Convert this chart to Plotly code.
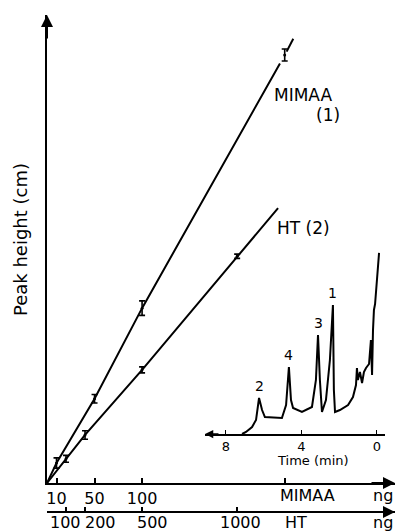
import plotly.graph_objects as go

# ---------------- data ----------------
# Calibration, MIMAA (1): amount (ng) vs peak height (arbitrary cm units)
mimaa_ng = [10, 50, 100, 250]
mimaa_h = [0.47, 1.98, 4.11, 10.06]
mimaa_err = [0.12, 0.10, 0.17, 0.14]
mimaa_line_x = [0, 10, 50, 100, 245]
mimaa_line_y = [0, 0.47, 1.98, 4.11, 9.86]
mimaa_ext_x = [252, 259]
mimaa_ext_y = [10.14, 10.44]

# Calibration, HT (2)
ht_ng = [100, 200, 500, 1000]
ht_h = [0.57, 1.13, 2.66, 5.33]
ht_err = [0.08, 0.10, 0.07, 0.05]
ht_line_x = [0, 100, 200, 500, 1000, 1215]
ht_line_y = [0, 0.57, 1.13, 2.66, 5.33, 6.46]

# Axis ticks
mimaa_ticks = [10, 50, 100, 250]
mimaa_ticklabels = ["10", "50", "100", ""]
ht_ticks = [100, 200, 500, 1000]
ht_ticklabels = ["100", "200", "500", "1000"]

# Inset chromatogram: time (min) vs detector response
chrom_t = [7.14, 6.93, 6.61, 6.40, 6.24, 6.08, 5.93, 5.03, 4.81, 4.66, 4.55, 4.44,
           3.97, 3.44, 3.23, 3.12, 3.02, 2.91, 2.70, 2.49, 2.33, 2.28, 2.22, 1.96,
           1.53, 1.27, 1.11, 1.06, 1.01, 0.90, 0.79, 0.69, 0.58, 0.42, 0.32, 0.26,
           0.21, 0.16, 0.10, -0.11]
chrom_h = [0, 2, 7, 14, 36, 24, 17, 16, 29, 67, 34, 26,
           22, 27, 54, 99, 54, 22, 34, 74, 129, 44, 22, 24,
           29, 37, 49, 66, 54, 62, 51, 62, 66, 70, 94, 59,
           104, 124, 130, 181]
peak_labels = ["2", "4", "3", "1"]
peak_t = [6.24, 4.66, 3.12, 2.33]
peak_h = [36, 67, 99, 129]
time_ticks = [8, 4, 0]

FONT = "DejaVu Sans"
BLACK = "black"

fig = go.Figure()

# calibration lines
fig.add_trace(go.Scatter(x=mimaa_line_x, y=mimaa_line_y, mode="lines",
                         line=dict(color=BLACK, width=2), xaxis="x", yaxis="y"))
fig.add_trace(go.Scatter(x=mimaa_ext_x, y=mimaa_ext_y, mode="lines",
                         line=dict(color=BLACK, width=2), xaxis="x", yaxis="y"))
fig.add_trace(go.Scatter(x=mimaa_ng, y=mimaa_h, mode="markers",
                         marker=dict(color=BLACK, size=3),
                         error_y=dict(type="data", array=mimaa_err, color=BLACK,
                                      thickness=1.6, width=3),
                         xaxis="x", yaxis="y"))
fig.add_trace(go.Scatter(x=ht_line_x, y=ht_line_y, mode="lines",
                         line=dict(color=BLACK, width=2), xaxis="x2", yaxis="y"))
fig.add_trace(go.Scatter(x=ht_ng, y=ht_h, mode="markers",
                         marker=dict(color=BLACK, size=3),
                         error_y=dict(type="data", array=ht_err, color=BLACK,
                                      thickness=1.6, width=3),
                         xaxis="x2", yaxis="y"))

# inset chromatogram
fig.add_trace(go.Scatter(x=chrom_t, y=chrom_h, mode="lines",
                         line=dict(color=BLACK, width=2), xaxis="x3", yaxis="y3"))

Y_DOM0 = 0.0841
HT_POS = 0.0274
fig.update_layout(
    width=399, height=531,
    margin=dict(l=47, r=4, t=15, b=5, autoexpand=False),
    paper_bgcolor="white", plot_bgcolor="rgba(0,0,0,0)",
    showlegend=False,
    font=dict(family=FONT, size=16, color=BLACK),
    xaxis=dict(domain=[0, 1], range=[0, 366], anchor="y", automargin=False,
               showline=True, linecolor=BLACK, linewidth=2,
               showgrid=False, zeroline=False,
               tickmode="array", tickvals=mimaa_ticks, ticktext=mimaa_ticklabels,
               ticks="inside", ticklen=5, tickwidth=1.5, tickcolor=BLACK,
               tickfont=dict(size=16, family=FONT)),
    xaxis2=dict(range=[0, 1830], overlaying="x", anchor="free", position=HT_POS,
                automargin=False,
                side="bottom", showline=True, linecolor=BLACK, linewidth=2,
                showgrid=False, zeroline=False,
                tickmode="array", tickvals=ht_ticks, ticktext=[""] * len(ht_ticks),
                ticks="inside", ticklen=4, tickwidth=1.5, tickcolor=BLACK,
                showticklabels=False),
    yaxis=dict(domain=[Y_DOM0, 1], range=[0, 11], anchor="x", automargin=False,
               showline=True, linecolor=BLACK, linewidth=2,
               showgrid=False, zeroline=False, showticklabels=False, ticks=""),
    xaxis3=dict(domain=[0.454, 0.971], range=[9.1, -0.42], anchor="y3", automargin=False,
                showline=True, linecolor=BLACK, linewidth=1.5,
                showgrid=False, zeroline=False,
                tickmode="array", tickvals=time_ticks,
                ticks="inside", ticklen=4, tickwidth=1.2, tickcolor=BLACK,
                ticklabelstandoff=0,
                tickfont=dict(size=13, family=FONT)),
    yaxis3=dict(domain=[0.180, 0.552], range=[0, 190], anchor="x3",
                visible=False),
)

ann = []
# arrowheads
ann.append(dict(x=0, y=11, xref="x", yref="y", ax=0, ay=25,
                text="", showarrow=True, arrowhead=2, arrowsize=1.2, arrowwidth=2,
                arrowcolor=BLACK))
ann.append(dict(x=366, y=0, xref="x", yref="y", ax=-25, ay=0,
                text="", showarrow=True, arrowhead=2, arrowsize=1.2, arrowwidth=2,
                arrowcolor=BLACK))
ann.append(dict(x=1830, y=HT_POS, xref="x2", yref="paper", ax=-25, ay=0,
                text="", showarrow=True, arrowhead=2, arrowsize=1.2, arrowwidth=2,
                arrowcolor=BLACK))
ann.append(dict(x=9.1, y=0, xref="x3", yref="y3", ax=15, ay=0,
                text="", showarrow=True, arrowhead=2, arrowsize=1.1, arrowwidth=1.5,
                arrowcolor=BLACK))

# inset axis title
ann.append(dict(x=3.39, y=0, xref="x3", yref="y3", text="Time (min)", showarrow=False,
                yanchor="middle", yshift=-26, font=dict(size=13, family=FONT)))

# HT tick labels (typeset slightly offset from ticks, as in the original)
ht_label_shift = [-1, 15, 10, 3]
for v, t, s in zip(ht_ticks, ht_ticklabels, ht_label_shift):
    ann.append(dict(x=v, y=HT_POS, xref="x2", yref="paper", text=t, showarrow=False,
                    xshift=s, yanchor="top", yshift=1,
                    font=dict(size=16, family=FONT)))

# axis names
ann.append(dict(x=274, y=Y_DOM0, xref="x", yref="paper", text="MIMAA", showarrow=False,
                xanchor="center", yanchor="top", yshift=-1, font=dict(size=16, family=FONT)))
ann.append(dict(x=1, y=Y_DOM0, xref="paper", yref="paper", text="ng", showarrow=False,
                xanchor="right", yanchor="top", yshift=-1, font=dict(size=16, family=FONT)))
ann.append(dict(x=1309, y=HT_POS, xref="x2", yref="paper", text="HT", showarrow=False,
                yanchor="top", yshift=1, font=dict(size=16, family=FONT)))
ann.append(dict(x=1, y=HT_POS, xref="paper", yref="paper", text="ng", showarrow=False,
                xanchor="right", yanchor="top", yshift=1, font=dict(size=16, family=FONT)))

# y title
ann.append(dict(x=0, y=(526 - 240) / 511, xref="paper", yref="paper",
                text="Peak height (cm)", showarrow=False, textangle=-90,
                xanchor="center", xshift=-27, font=dict(size=18, family=FONT)))

# line labels
ann.append(dict(x=237, y=9.12, xref="x", yref="y", text="MIMAA", showarrow=False,
                xanchor="left", font=dict(size=17, family=FONT)))
ann.append(dict(x=296, y=8.65, xref="x", yref="y", text="(1)", showarrow=False,
                xanchor="center", font=dict(size=17, family=FONT)))
ann.append(dict(x=1199, y=5.99, xref="x2", yref="y", text="HT (2)", showarrow=False,
                xanchor="left", font=dict(size=17, family=FONT)))

# peak labels
for lab, t, h in zip(peak_labels, peak_t, peak_h):
    ann.append(dict(x=t, y=h, xref="x3", yref="y3", text=lab, showarrow=False,
                    yanchor="bottom", yshift=2, font=dict(size=14, family=FONT)))

fig.update_layout(annotations=ann)
fig.write_html("out.html", config={"displayModeBar": False},
               post_script="document.body.style.margin='0';document.body.style.overflow='hidden';")
